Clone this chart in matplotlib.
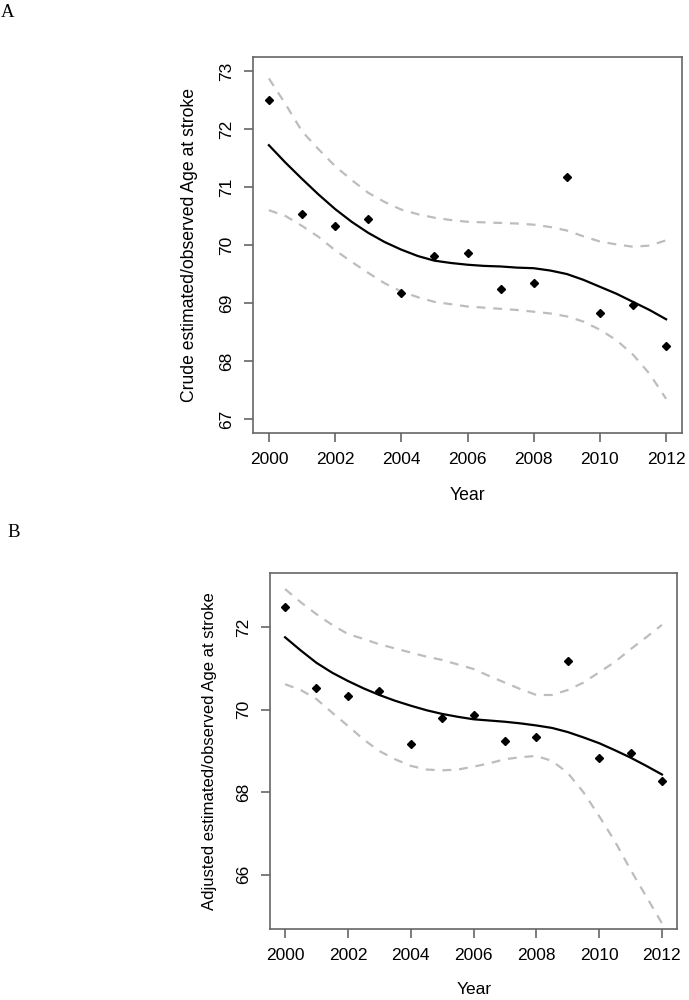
import numpy as np
import matplotlib.pyplot as plt

# observed values (same in both panels)
years = np.arange(2000, 2013)
observed = [72.50, 70.53, 70.33, 70.45, 69.18, 69.81, 69.87, 69.25, 69.35, 71.18, 68.83, 68.96, 68.26]

# fitted curves read every half year
curve_x = np.arange(2000, 2012.01, 0.5)

# panel A: crude fit and band
fit_a = [71.72, 71.42, 71.14, 70.87, 70.62, 70.40, 70.21, 70.05, 69.92, 69.81, 69.73, 69.69, 69.66,
         69.64, 69.63, 69.61, 69.60, 69.56, 69.50, 69.40, 69.28, 69.16, 69.02, 68.88, 68.72]
up_a = [72.87, 72.43, 71.96, 71.65, 71.36, 71.12, 70.90, 70.74, 70.61, 70.53, 70.47, 70.43, 70.40,
        70.39, 70.38, 70.37, 70.35, 70.31, 70.25, 70.15, 70.06, 70.01, 69.97, 69.99, 70.08]
lo_a = [70.60, 70.50, 70.33, 70.14, 69.91, 69.71, 69.52, 69.34, 69.20, 69.10, 69.02, 68.98, 68.94,
        68.92, 68.90, 68.88, 68.85, 68.82, 68.77, 68.68, 68.54, 68.36, 68.11, 67.78, 67.35]

# panel B: adjusted fit and band
fit_b = [71.76, 71.44, 71.14, 70.90, 70.70, 70.52, 70.36, 70.22, 70.10, 69.99, 69.90, 69.83, 69.77,
         69.74, 69.71, 69.67, 69.62, 69.56, 69.46, 69.33, 69.19, 69.02, 68.84, 68.64, 68.43]
up_b = [72.93, 72.61, 72.32, 72.06, 71.84, 71.72, 71.59, 71.49, 71.39, 71.29, 71.21, 71.10, 70.99,
        70.82, 70.66, 70.50, 70.36, 70.36, 70.48, 70.66, 70.91, 71.16, 71.47, 71.76, 72.06]
lo_b = [70.62, 70.48, 70.26, 69.93, 69.61, 69.28, 69.00, 68.80, 68.64, 68.55, 68.53, 68.55, 68.62,
        68.70, 68.80, 68.85, 68.88, 68.76, 68.47, 68.00, 67.42, 66.81, 66.12, 65.47, 64.82]

plt.rcParams['font.family'] = 'Liberation Sans'

W, H = 689, 1000
fig = plt.figure(figsize=(W / 100, H / 100), dpi=100)


def px_axes(l, t, r, b):
    return fig.add_axes([l / W, 1 - b / H, (r - l) / W, (b - t) / H])


def panel(ax, fit, up, lo, ylim, yticks):
    ax.plot(curve_x, up, color='#bdbdbd', lw=1.6, dashes=(4, 3.5))
    ax.plot(curve_x, lo, color='#bdbdbd', lw=1.6, dashes=(4, 3.5))
    ax.plot(curve_x, fit, color='black', lw=1.6)
    ax.plot(years, observed, 'D', color='black', ms=3.6, mec='black')
    span = ylim[1] - ylim[0]
    ax.set_ylim(ylim[0] - 0.04 * span, ylim[1] + 0.04 * span)
    ax.set_xlim(1999.52, 2012.48)
    ax.set_xticks(range(2000, 2013, 2))
    ax.set_yticks(yticks)
    ax.set_yticklabels([str(v) for v in yticks], rotation=90, va='center')
    for s in ax.spines.values():
        s.set_color('#666666')
        s.set_linewidth(1.2)
    ax.tick_params(length=6.5, width=1.2, color='#666666', labelsize=12.5, pad=7)


ax1 = px_axes(253, 57, 682, 433)
panel(ax1, fit_a, up_a, lo_a, (67, 73), [67, 68, 69, 70, 71, 72, 73])
ax2 = px_axes(270, 573, 677, 929)
panel(ax2, fit_b, up_b, lo_b, (65, 73), [66, 68, 70, 72])

fig.text(190 / W, 1 - 245 / H, 'Crude estimated/observed Age at stroke', rotation=90,
         ha='center', va='center', fontsize=12.7)
fig.text(467 / W, 1 - 495 / H, 'Year', ha='center', va='center', fontsize=12.7)
fig.text(210 / W, 1 - 751 / H, 'Adjusted estimated/observed Age at stroke', rotation=90,
         ha='center', va='center', fontsize=12)
fig.text(474 / W, 1 - 989 / H, 'Year', ha='center', va='center', fontsize=12.5)

fig.text(1 / W, 1 - 17 / H, 'A', family='Liberation Serif', fontsize=13.5)
fig.text(7 / W, 1 - 537 / H, 'B', family='Liberation Serif', fontsize=13.5)

fig.savefig('out.png', dpi=100)
